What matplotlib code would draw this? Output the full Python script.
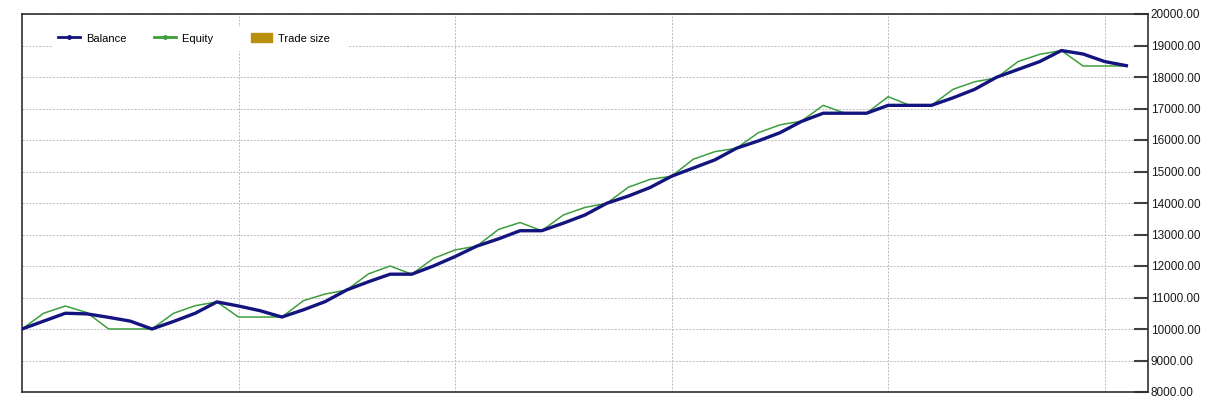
import matplotlib.pyplot as plt
from matplotlib.lines import Line2D
from matplotlib.patches import Patch

# trade number on x, account value on y
trades = list(range(52))

balance = [10000, 10250, 10500, 10480, 10370, 10250, 10000, 10240, 10500, 10860,
           10730, 10580, 10380, 10610, 10870, 11240, 11500, 11740, 11740, 12000,
           12300, 12630, 12860, 13120, 13120, 13360, 13620, 13990, 14220, 14490,
           14850, 15110, 15370, 15740, 15970, 16230, 16590, 16850, 16850, 16850,
           17100, 17100, 17100, 17340, 17610, 17990, 18240, 18490, 18840, 18730,
           18490, 18360]

equity = [10000, 10500, 10730, 10520, 10000, 10000, 10000, 10500, 10740, 10860,
          10380, 10380, 10380, 10900, 11110, 11240, 11750, 12000, 11740, 12240,
          12510, 12630, 13160, 13380, 13120, 13620, 13860, 13990, 14500, 14750,
          14850, 15390, 15630, 15740, 16230, 16480, 16600, 17100, 16850, 16850,
          17375, 17100, 17100, 17610, 17850, 17970, 18490, 18720, 18840, 18350,
          18350, 18350]

y_ticks = list(range(8000, 20001, 1000))
x_grid = [10, 20, 30, 40, 50]

BALANCE_COLOR = '#14147f'
EQUITY_COLOR = '#3c9e3c'
TRADE_COLOR = '#b8900e'
FONT = ['Liberation Sans', 'DejaVu Sans']

W, H = 1215, 404
fig = plt.figure(figsize=(W / 100, H / 100), dpi=100)
ax = fig.add_axes([22 / W, 1 - 392 / H, (1148 - 22) / W, (392 - 14) / H])

ax.plot(trades, equity, color=EQUITY_COLOR, lw=1.1, zorder=3)
ax.plot(trades, balance, color=BALANCE_COLOR, lw=2.4, zorder=4)

ax.set_xlim(0, 52)
ax.set_ylim(8000, 20000)

ax.set_yticks(y_ticks)
ax.set_yticklabels(['%.2f' % v for v in y_ticks])
ax.set_xticks(x_grid)
ax.yaxis.tick_right()
ax.tick_params(axis='y', direction='in', length=10, width=1.5, color='#404040',
               labelsize=8.5, labelcolor='#1a1a1a', pad=2)
ax.tick_params(axis='x', length=0, labelbottom=False)
for lbl in ax.get_yticklabels():
    lbl.set_family(FONT)

ax.grid(True, color='#bdb9c4', linestyle=(0, (2, 1.5)), lw=0.7, zorder=1)
for s in ax.spines.values():
    s.set_color('#303030')
    s.set_linewidth(1.2)

handles = [
    Line2D([], [], color=BALANCE_COLOR, lw=2, marker='o', markersize=2.5),
    Line2D([], [], color=EQUITY_COLOR, lw=2, marker='o', markersize=2.5),
    Patch(facecolor=TRADE_COLOR, edgecolor=TRADE_COLOR),
]
# trailing spaces widen the Equity column like the original legend
leg = ax.legend(handles, ['Balance', 'Equity   ', 'Trade size   '], ncol=3,
                loc='upper left', bbox_to_anchor=(0.022, 0.98),
                frameon=True, fancybox=False, edgecolor='white', facecolor='white',
                framealpha=1, prop={'family': FONT, 'size': 8},
                handlelength=1.95, handleheight=0.9, columnspacing=2.5, handletextpad=0.55,
                borderpad=0.55)
leg.set_zorder(5)

fig.savefig('out.png', dpi=100, facecolor='white')
